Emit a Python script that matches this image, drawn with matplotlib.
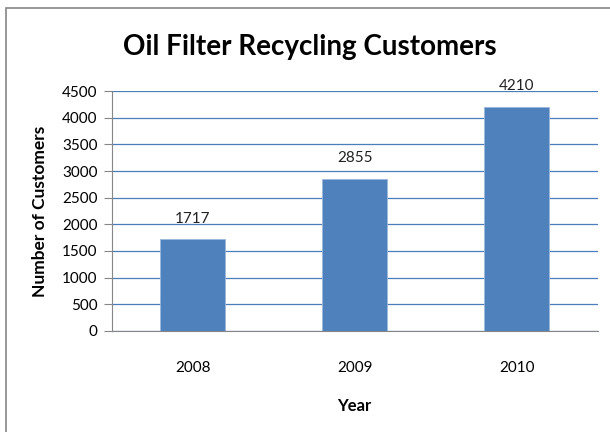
import matplotlib
matplotlib.use("Agg")
import matplotlib.pyplot as plt
from matplotlib.patches import Rectangle

years = ["2008", "2009", "2010"]
customers = [1717, 2855, 4210]
y_ticks = [0, 500, 1000, 1500, 2000, 2500, 3000, 3500, 4000, 4500]

plt.rcParams['font.family'] = ['Lato', 'DejaVu Sans']

fig = plt.figure(figsize=(6.1, 4.32), dpi=100)
ax = fig.add_axes([0.183, 0.234, 0.797, 0.555])

x = range(len(years))
ax.bar(x, customers, width=0.4, color="#4F81BD", edgecolor="#9BB7DA", linewidth=0.6, zorder=3)
for xi, v in zip(x, customers):
    ax.text(xi, v + 250, str(v), ha="center", va="bottom", fontsize=11, color="#222222", zorder=4)

ax.set_xlim(-0.5, 2.5)
ax.set_ylim(0, 4500)
ax.set_yticks(y_ticks)
ax.set_xticks(list(x))
ax.set_xticklabels(years)
ax.yaxis.grid(True, color="#4A7EBB", linewidth=0.9, zorder=0)
ax.set_axisbelow(True)

for side in ["top", "right"]:
    ax.spines[side].set_visible(False)
for side in ["left", "bottom"]:
    ax.spines[side].set_color("#868686")
ax.tick_params(axis="y", length=6, color="#868686", labelsize=11, pad=4)
ax.tick_params(axis="x", length=0, labelsize=11, pad=22)

ax.set_xlabel("Year", fontsize=12, fontweight="bold", labelpad=16)
ax.set_ylabel("Number of Customers", fontsize=12.5, fontweight="bold", labelpad=10)
fig.text(0.508, 0.892, "Oil Filter Recycling Customers", ha="center", va="center",
         fontsize=20, fontweight="bold")

# chart frame
fig.patches.append(Rectangle((6 / 610, -0.1), 1.2, 1 - 8 / 432 + 0.1, transform=fig.transFigure,
                             fill=False, edgecolor="#868686", linewidth=1.2))

fig.savefig("out.png", dpi=100)
